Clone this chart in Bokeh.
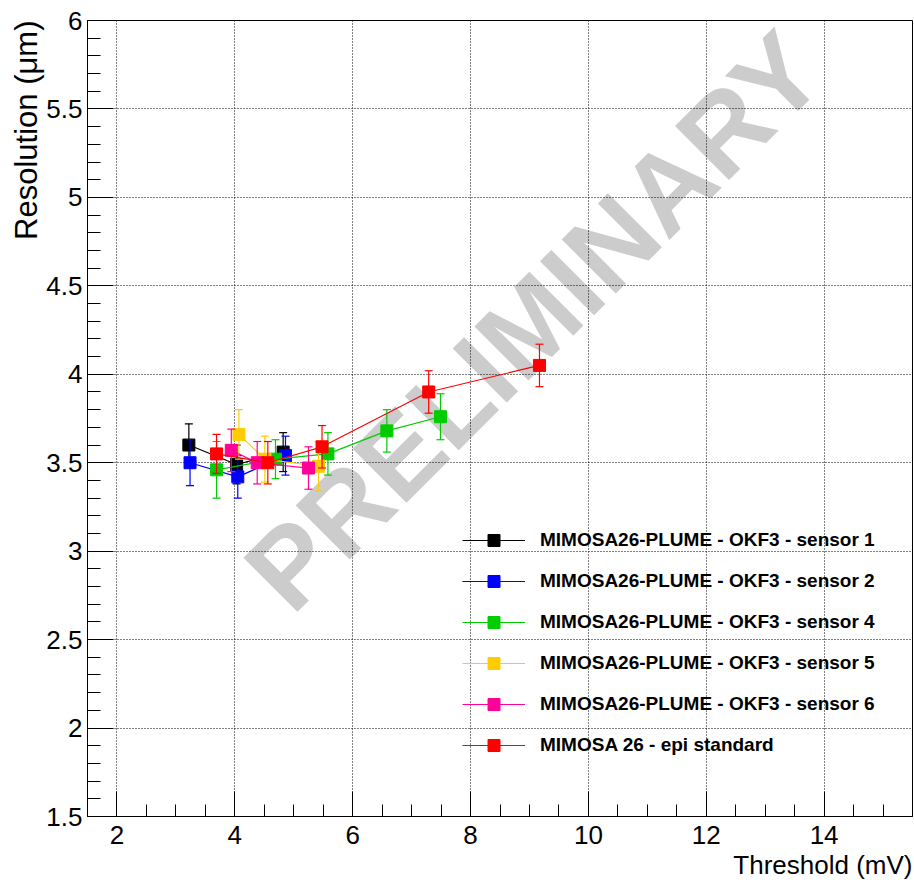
import numpy as np
from bokeh.plotting import figure
from bokeh.models import Range1d, FixedTicker, Legend, LegendItem, Title
from bokeh.core.properties import value
from bokeh.embed import file_html
from bokeh.resources import INLINE

# Threshold (mV), spatial resolution (um) and its uncertainty, one block per sensor
s1_thr = [3.22, 4.03, 4.82]
s1_res = [3.60, 3.49, 3.56]
s1_err = [0.12, 0.11, 0.11]

s2_thr = [3.24, 4.05, 4.86]
s2_res = [3.50, 3.42, 3.54]
s2_err = [0.13, 0.12, 0.11]

s4_thr = [3.69, 4.69, 5.58, 6.58, 7.49]
s4_res = [3.46, 3.52, 3.55, 3.68, 3.76]
s4_err = [0.16, 0.11, 0.12, 0.12, 0.13]

s5_thr = [4.07, 4.51, 5.42]
s5_res = [3.66, 3.52, 3.48]
s5_err = [0.14, 0.13, 0.14]

s6_thr = [3.94, 4.38, 5.25]
s6_res = [3.57, 3.50, 3.47]
s6_err = [0.12, 0.12, 0.12]

epi_thr = [3.69, 4.56, 5.48, 7.29, 9.17]
epi_res = [3.55, 3.50, 3.59, 3.90, 4.05]
epi_err = [0.11, 0.12, 0.12, 0.12, 0.12]

series_names = [
    "MIMOSA26-PLUME - OKF3 - sensor 1",
    "MIMOSA26-PLUME - OKF3 - sensor 2",
    "MIMOSA26-PLUME - OKF3 - sensor 4",
    "MIMOSA26-PLUME - OKF3 - sensor 5",
    "MIMOSA26-PLUME - OKF3 - sensor 6",
    "MIMOSA 26 - epi standard",
]
series_colors = ["#000000", "#0000ff", "#00cc00", "#ffcc00", "#ff0099", "#ff0000"]

x_major = [2, 4, 6, 8, 10, 12, 14]
x_minor = [float(v) for v in np.arange(1.5, 15.51, 0.5)]
y_major = [1.5, 2.0, 2.5, 3.0, 3.5, 4.0, 4.5, 5.0, 5.5, 6.0]
y_labels = ["1.5", "2", "2.5", "3", "3.5", "4", "4.5", "5", "5.5", "6"]
y_minor = [round(float(v), 2) for v in np.arange(1.5, 6.001, 0.1)]

FONT = "Liberation Sans"

p = figure(width=914, height=889, output_backend="svg", toolbar_location=None,
           x_range=Range1d(1.5, 15.5), y_range=Range1d(1.5, 6.0),
           min_border_left=87, min_border_right=2, min_border_top=20,
           min_border_bottom=73, background_fill_color="white",
           border_fill_color="white")

p.outline_line_color = "black"
p.outline_line_width = 1

# axes: ticks pointing into the frame
p.xaxis.ticker = FixedTicker(ticks=x_major, minor_ticks=x_minor)
p.yaxis.ticker = FixedTicker(ticks=y_major, minor_ticks=y_minor)
p.yaxis.major_label_overrides = {str(v): s for v, s in zip(y_major, y_labels)}

for ax, big, small, stand in ((p.xaxis, 25, 12, 9), (p.yaxis, 26, 13, 5)):
    ax.major_tick_in = big
    ax.major_tick_out = 0
    ax.minor_tick_in = small
    ax.minor_tick_out = 0
    ax.major_tick_line_color = "black"
    ax.minor_tick_line_color = "black"
    ax.axis_line_color = "black"
    ax.major_label_text_font = FONT
    ax.major_label_text_font_size = "26px"
    ax.major_label_text_color = "black"
    ax.major_label_standoff = stand

for g in (p.xgrid, p.ygrid):
    g.grid_line_color = "black"
    g.grid_line_dash = "1 2"
    g.grid_line_width = 1

p.add_layout(Title(text="Threshold (mV)", align="right", text_font=FONT,
                   text_font_size="26px", text_font_style="normal",
                   text_color="black", standoff=3), "below")
p.add_layout(Title(text="Resolution (\u03bcm)", align="right", text_font=FONT,
                   text_font_size="31px", text_font_style="normal",
                   text_color="black", standoff=0), "left")

# watermark, drawn below the grid and the data
wm = p.text(x=[9.08], y=[4.30], text=["PRELIMINARY"], angle=45, angle_units="deg",
            text_align="center", text_baseline="middle", text_font=value(FONT),
            text_font_size="111px", text_font_style="bold", text_color="#cccccc")
wm.level = "image"

data = [
    (s1_thr, s1_res, s1_err),
    (s2_thr, s2_res, s2_err),
    (s4_thr, s4_res, s4_err),
    (s5_thr, s5_res, s5_err),
    (s6_thr, s6_res, s6_err),
    (epi_thr, epi_res, epi_err),
]

items = []
for (xs, ys, es), name, col in zip(data, series_names, series_colors):
    lo = [y - e for y, e in zip(ys, es)]
    hi = [y + e for y, e in zip(ys, es)]
    p.segment(x0=xs, y0=lo, x1=xs, y1=hi, line_color=col, line_width=1.2)
    p.scatter(x=xs + xs, y=lo + hi, marker="dash", size=8, line_color=col,
              line_width=1.2)
    ln = p.line(xs, ys, line_color=col, line_width=1.2)
    mk = p.scatter(xs, ys, marker="square", size=12, fill_color=col,
                   line_color=col)
    items.append(LegendItem(label=name, renderers=[ln, mk]))

legend = Legend(items=items, location=(375, 56), glyph_width=63, glyph_height=30,
                label_height=30, spacing=11, label_standoff=15, padding=0,
                margin=0, border_line_alpha=0, background_fill_alpha=0,
                label_text_font=FONT, label_text_font_style="bold",
                label_text_font_size="19px", label_text_color="black")
p.add_layout(legend)

open("out.html", "w").write(file_html(p, INLINE))
